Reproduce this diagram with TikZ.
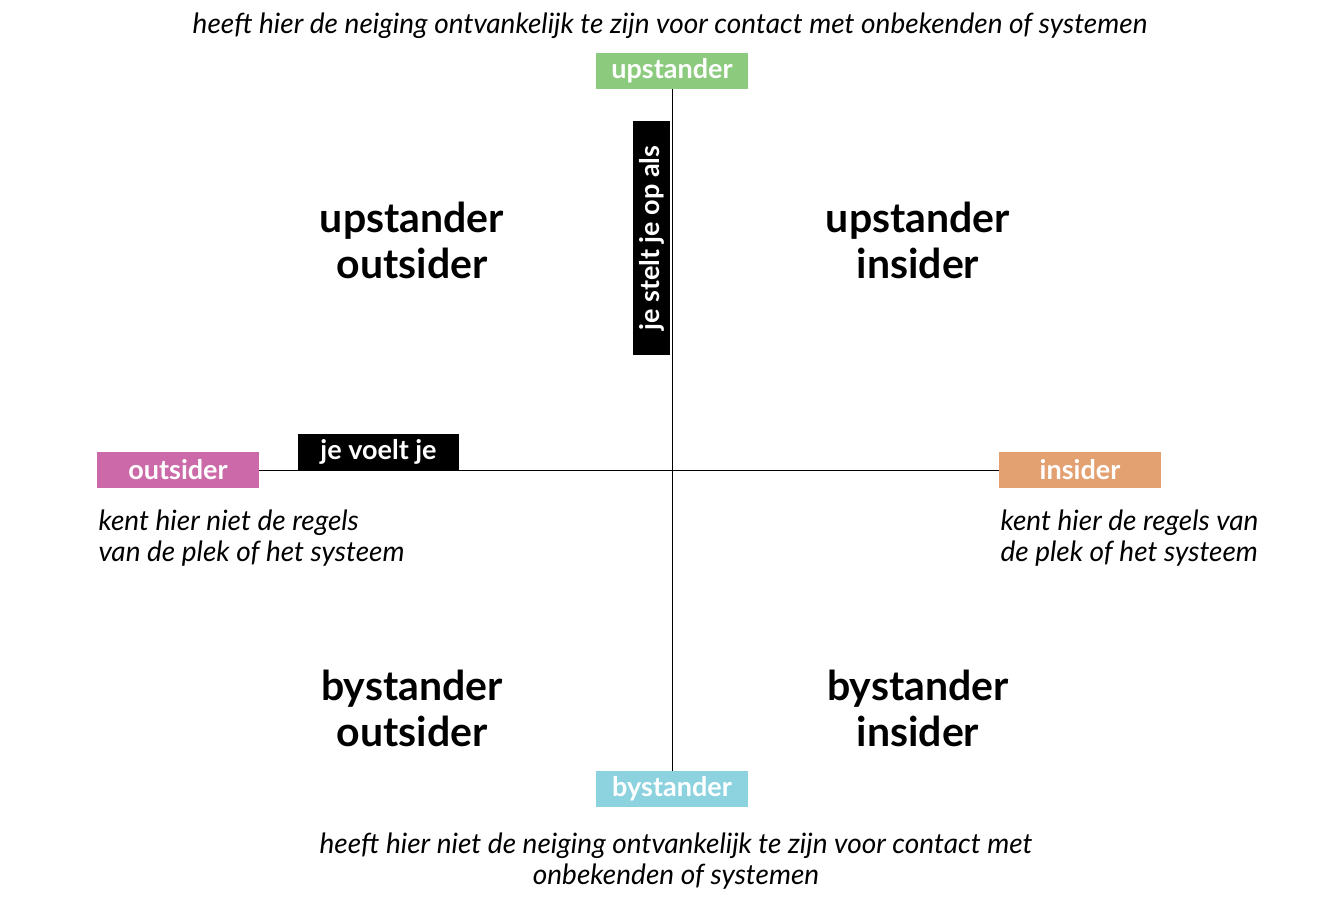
\documentclass[tikz,border=0pt]{standalone}
\usepackage{fontspec}
\setmainfont{Lato}
\definecolor{cup}{HTML}{8CCB7E}
\definecolor{cby}{HTML}{8DD3DF}
\definecolor{cout}{HTML}{CC6AA9}
\definecolor{cin}{HTML}{E3A070}
\begin{document}
\begin{tikzpicture}[x=1pt,y=-1pt,
  tag/.style={inner sep=0pt,text=white,font=\fontsize{27}{30}\selectfont\bfseries,anchor=center},
  quad/.style={align=center,font=\fontsize{41}{46}\selectfont\bfseries},
  note/.style={font=\fontsize{28}{31}\selectfont\itshape},
  ax/.style={line width=0.8pt}]
\useasboundingbox (0,0) rectangle (1340,900);
\fill[white] (0,0) rectangle (1340,900);
% boxes
\node[tag,fill=cup,minimum width=152pt,minimum height=36pt] (up) at (672,71) {upstander};
\node[tag,fill=cby,minimum width=152pt,minimum height=36pt] (by) at (672,789) {bystander};
\node[tag,fill=cout,minimum width=162pt,minimum height=36pt] (out) at (178,470) {outsider};
\node[tag,fill=cin,minimum width=162pt,minimum height=36pt] (in) at (1080,470) {insider};
\draw[ax] (up.south) -- (by.north);
\draw[ax] (out.east) -- (in.west);
\node[tag,fill=black,minimum width=161pt,minimum height=36pt] (feel) at (378.5,452) {je voelt je};
\node[tag,fill=black,rotate=90,minimum width=234pt,minimum height=37pt] (pos) at (651.5,238) {je stelt je op als};
% quadrants
\node[quad] (q1) at (412,240) {upstander\\outsider};
\node[quad] (q2) at (918,240) {upstander\\insider};
\node[quad] (q3) at (412,708) {bystander\\outsider};
\node[quad] (q4) at (918,708) {bystander\\insider};
% notes
\node[note] (t) at (670,26) {heeft hier de neiging ontvankelijk te zijn voor contact met onbekenden of systemen};
\node[note,align=center] (b) at (676,861) {heeft hier niet de neiging ontvankelijk te zijn voor contact met\\onbekenden of systemen};
\node[note,align=left,anchor=west] (l) at (95,538) {kent hier niet de regels\\van de plek of het systeem};
\node[note,align=left,anchor=west] (r) at (997,538) {kent hier de regels van\\de plek of het systeem};
\end{tikzpicture}
\end{document}
